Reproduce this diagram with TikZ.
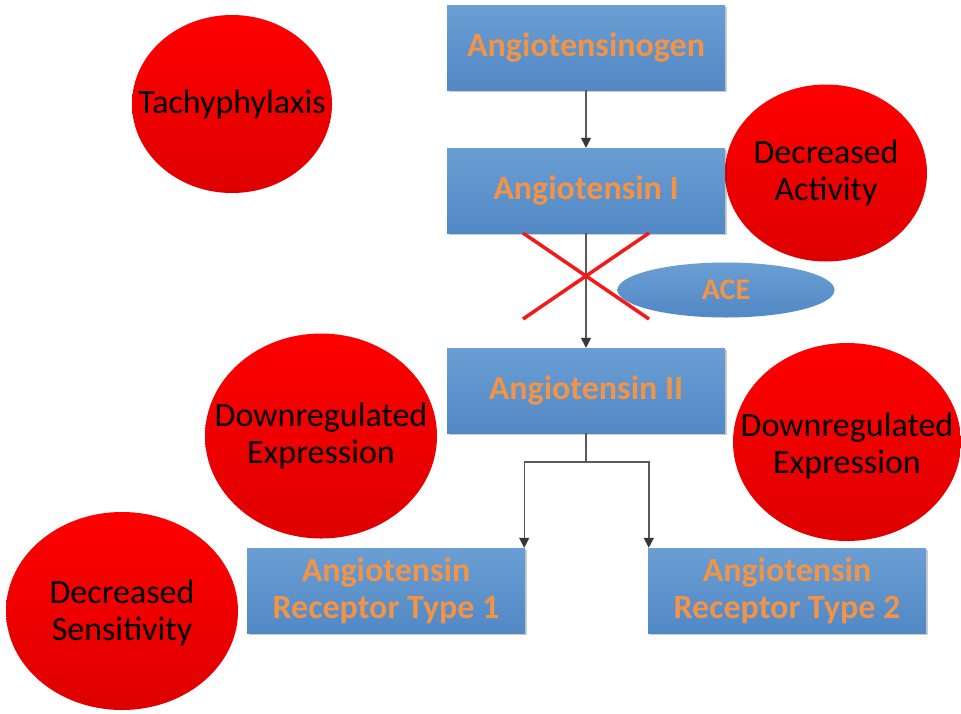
\documentclass[tikz,border=0pt]{standalone}
\usepackage{fontspec}
\setmainfont{Carlito}
\usetikzlibrary{shapes.geometric,arrows.meta,shadows}

\definecolor{boxtop}{RGB}{106,158,212}
\definecolor{boxbot}{RGB}{82,136,196}
\definecolor{labelorange}{RGB}{242,148,72}
\definecolor{redtop}{RGB}{255,0,0}
\definecolor{redbot}{RGB}{222,0,0}
\definecolor{linegray}{RGB}{90,90,90}
\definecolor{tipgray}{RGB}{55,55,55}
\definecolor{crossred}{RGB}{245,25,25}

\tikzset{
  stagebox/.style={rectangle, top color=boxtop, bottom color=boxbot,
    minimum width=278pt, minimum height=85pt, inner sep=0pt,
    align=center, text=labelorange,
    font=\fontsize{34}{37}\selectfont\bfseries,
    drop shadow={shadow xshift=2pt, shadow yshift=-2pt, opacity=0.2, fill=black}},
  enzyme/.style={ellipse, top color=boxtop, bottom color=boxbot,
    minimum width=217pt, minimum height=55pt, inner sep=0pt,
    text=labelorange, font=\fontsize{30}{34}\selectfont\bfseries},
  effect/.style={ellipse, top color=redtop, bottom color=redbot,
    inner sep=0pt},
  effecttext/.style={align=center, text=black, inner sep=0pt,
    font=\fontsize{34}{37}\selectfont},
  flow/.style={draw=linegray, line width=1.4pt,
    -{Triangle[length=10pt, width=10pt, color=tipgray]}},
  cross/.style={draw=crossred, line width=3.5pt}
}

\begin{document}
\begin{tikzpicture}[x=1pt, y=-1pt]
  \useasboundingbox (0,0) rectangle (961,713);

  % red effect circles, with their captions on top
  \node[effect, minimum width=200pt, minimum height=178pt] (tachy) at (232,104) {};
  \node[effect, minimum width=202pt, minimum height=177pt] (decact) at (826,173) {};
  \node[effect, minimum width=232pt, minimum height=205pt] (downl) at (321,436) {};
  \node[effect, minimum width=228pt, minimum height=198pt] (downr) at (847,442) {};
  \node[effect, minimum width=232pt, minimum height=198pt] (decsens) at (122,611) {};

  \node[effecttext] (tachyt) at (tachy) {Tachyphylaxis};
  \node[effecttext] (decactt) at (decact) {Decreased\\Activity};
  \node[effecttext] (downlt) at (downl) {Downregulated\\Expression};
  \node[effecttext] (downrt) at ([yshift=-4pt]downr) {Downregulated\\Expression};
  \node[effecttext] (decsenst) at ([yshift=-2pt]decsens) {Decreased\\Sensitivity};

  % cascade boxes
  \node[stagebox] (agt) at (586,47.5) {Angiotensinogen};
  \node[stagebox] (ang1) at (586,190.5) {Angiotensin I};
  \node[stagebox] (ang2) at (586,390.5) {Angiotensin II};
  \node[stagebox] (at1) at (386,590.5) {Angiotensin\\Receptor Type 1};
  \node[stagebox] (at2) at (787,590.5) {Angiotensin\\Receptor Type 2};

  % converting enzyme
  \node[enzyme] (ace) at (726,290) {ACE};

  % arrows
  \draw[flow] (agt.south) -- (ang1.north);
  \draw[flow] (ang1.south) -- (ang2.north);
  \coordinate (split) at (586,462);
  \draw[draw=linegray, line width=1.4pt] (ang2.south) -- (split);
  \draw[flow] (split) -| ([xshift=-1pt]at1.north east);
  \draw[flow] (split) -| ([xshift=1pt]at2.north west);

  % blocked conversion
  \coordinate (xa) at (523,233);
  \coordinate (xb) at (649,319);
  \coordinate (xc) at (649,233);
  \coordinate (xd) at (523,319);
  \draw[cross] (xa) -- (xb);
  \draw[cross] (xc) -- (xd);
\end{tikzpicture}
\end{document}
